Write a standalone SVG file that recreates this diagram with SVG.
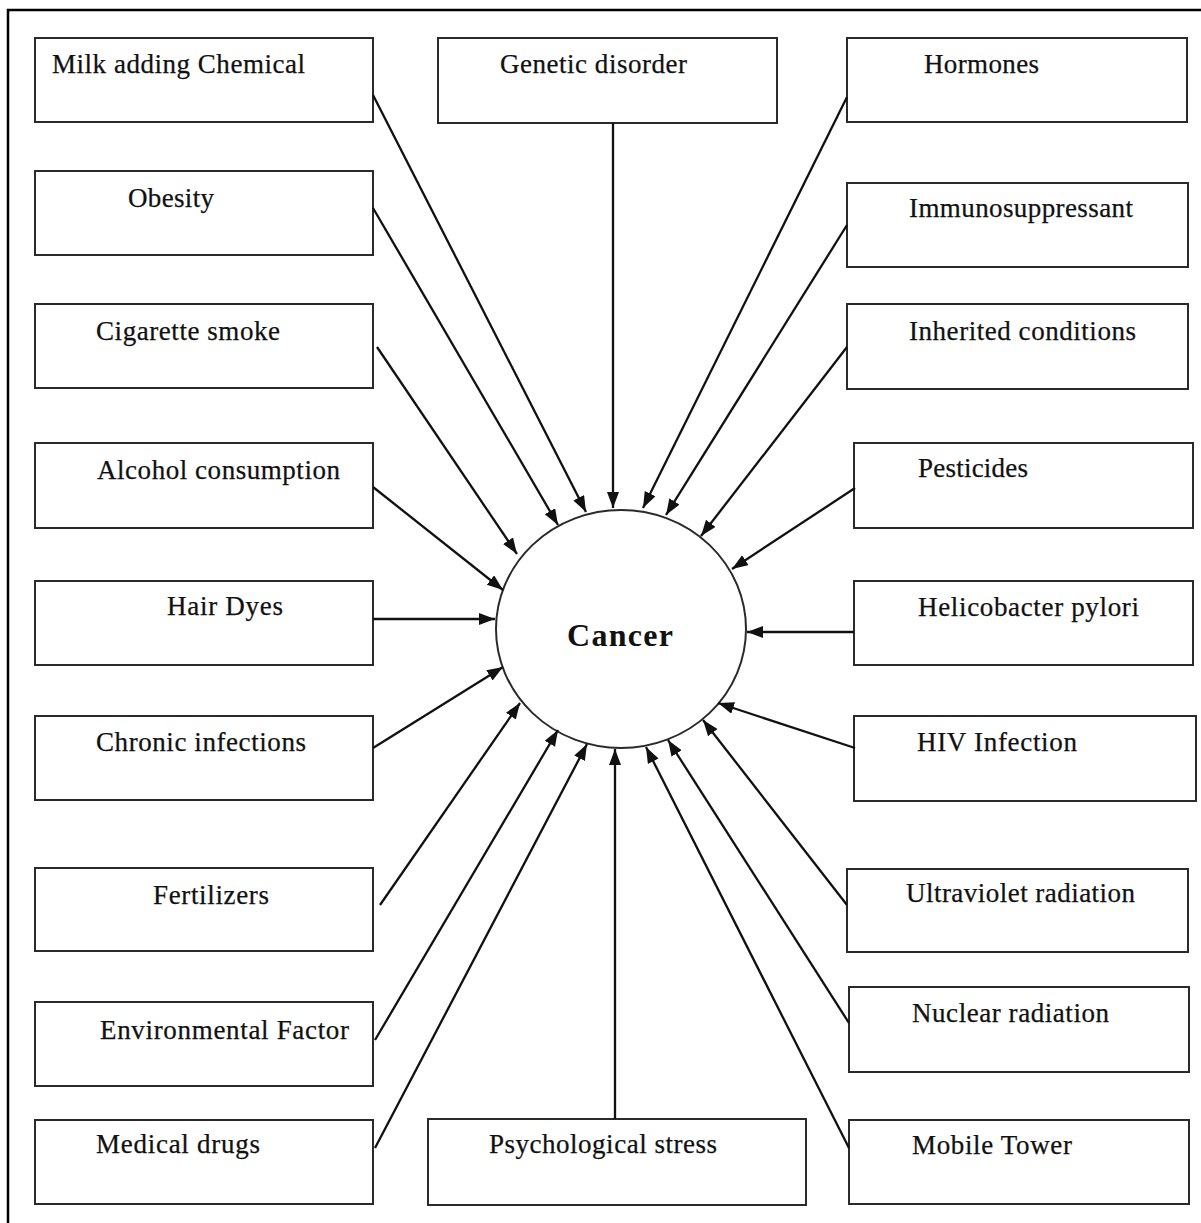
<svg xmlns="http://www.w3.org/2000/svg" width="1201" height="1223" viewBox="0 0 1201 1223">
<style>
.box{fill:#fff;stroke:#2a2a2a;stroke-width:2}
.lbl{font-family:"Liberation Serif","Times New Roman",serif;font-size:27px;fill:#111;stroke:#111;stroke-width:0.25}
.ttl{font-family:"Liberation Serif","Times New Roman",serif;font-size:32px;font-weight:bold;fill:#111}
.con line{stroke:#111;stroke-width:2.3;marker-end:url(#ah)}
</style>
<defs>
<marker id="ah" markerUnits="userSpaceOnUse" markerWidth="18" markerHeight="13" refX="16" refY="6" orient="auto">
<path d="M0,0 L16,6 L0,12 Z" fill="#111"/>
</marker>
</defs>
<rect width="1201" height="1223" fill="#fff"/>
<path d="M8,1223 L8,10 L1201,10" fill="none" stroke="#000" stroke-width="2.5"/>

<g id="n-milk"><rect class="box" x="35" y="38" width="338" height="84"/><text class="lbl" x="52" y="73" textLength="253" lengthAdjust="spacing">Milk adding Chemical</text></g>
<g id="n-genetic"><rect class="box" x="438" y="38" width="339" height="85"/><text class="lbl" x="500" y="73" textLength="187" lengthAdjust="spacing">Genetic disorder</text></g>
<g id="n-hormones"><rect class="box" x="847" y="38" width="340" height="84"/><text class="lbl" x="924" y="73" textLength="115" lengthAdjust="spacing">Hormones</text></g>
<g id="n-obesity"><rect class="box" x="35" y="171" width="338" height="84"/><text class="lbl" x="128" y="207" textLength="86" lengthAdjust="spacing">Obesity</text></g>
<g id="n-immuno"><rect class="box" x="847" y="183" width="341" height="84"/><text class="lbl" x="909" y="217" textLength="224" lengthAdjust="spacing">Immunosuppressant</text></g>
<g id="n-cigarette"><rect class="box" x="35" y="304" width="338" height="84"/><text class="lbl" x="96" y="340" textLength="184" lengthAdjust="spacing">Cigarette smoke</text></g>
<g id="n-inherited"><rect class="box" x="847" y="304" width="341" height="85"/><text class="lbl" x="909" y="340" textLength="227" lengthAdjust="spacing">Inherited conditions</text></g>
<g id="n-alcohol"><rect class="box" x="35" y="443" width="338" height="85"/><text class="lbl" x="97" y="479" textLength="243" lengthAdjust="spacing">Alcohol consumption</text></g>
<g id="n-pesticides"><rect class="box" x="854" y="443" width="339" height="85"/><text class="lbl" x="918" y="477" textLength="110" lengthAdjust="spacing">Pesticides</text></g>
<g id="n-hair"><rect class="box" x="35" y="581" width="338" height="84"/><text class="lbl" x="167" y="615" textLength="116" lengthAdjust="spacing">Hair Dyes</text></g>
<g id="n-helico"><rect class="box" x="854" y="581" width="339" height="84"/><text class="lbl" x="918" y="616" textLength="221" lengthAdjust="spacing">Helicobacter pylori</text></g>
<g id="n-chronic"><rect class="box" x="35" y="716" width="338" height="84"/><text class="lbl" x="96" y="751" textLength="210" lengthAdjust="spacing">Chronic infections</text></g>
<g id="n-hiv"><rect class="box" x="854" y="716" width="342" height="85"/><text class="lbl" x="917" y="751" textLength="160" lengthAdjust="spacing">HIV Infection</text></g>
<g id="n-fertilizers"><rect class="box" x="35" y="868" width="338" height="83"/><text class="lbl" x="153" y="904" textLength="116" lengthAdjust="spacing">Fertilizers</text></g>
<g id="n-uv"><rect class="box" x="847" y="869" width="341" height="83"/><text class="lbl" x="906" y="902" textLength="229" lengthAdjust="spacing">Ultraviolet radiation</text></g>
<g id="n-env"><rect class="box" x="35" y="1002" width="338" height="84"/><text class="lbl" x="100" y="1039" textLength="249" lengthAdjust="spacing">Environmental Factor</text></g>
<g id="n-nuclear"><rect class="box" x="849" y="987" width="340" height="85"/><text class="lbl" x="912" y="1022" textLength="197" lengthAdjust="spacing">Nuclear radiation</text></g>
<g id="n-medical"><rect class="box" x="35" y="1120" width="338" height="84"/><text class="lbl" x="96" y="1153" textLength="164" lengthAdjust="spacing">Medical drugs</text></g>
<g id="n-psych"><rect class="box" x="428" y="1119" width="378" height="86"/><text class="lbl" x="489" y="1153" textLength="228" lengthAdjust="spacing">Psychological stress</text></g>
<g id="n-mobile"><rect class="box" x="849" y="1120" width="340" height="84"/><text class="lbl" x="912" y="1154" textLength="160" lengthAdjust="spacing">Mobile Tower</text></g>

<g id="n-cancer"><ellipse cx="621" cy="629" rx="125" ry="119" fill="#fff" stroke="#2a2a2a" stroke-width="2"/><text class="ttl" x="567" y="646" textLength="106" lengthAdjust="spacing">Cancer</text></g>

<g id="connectors" class="con">
<line x1="373" y1="95" x2="586" y2="512"/>
<line x1="373" y1="208" x2="558" y2="525"/>
<line x1="377" y1="347" x2="517" y2="554"/>
<line x1="373" y1="487" x2="503" y2="590"/>
<line x1="373" y1="619" x2="495" y2="619"/>
<line x1="373" y1="748" x2="503" y2="667"/>
<line x1="380" y1="905" x2="520" y2="703"/>
<line x1="375" y1="1040" x2="558" y2="730"/>
<line x1="375" y1="1148" x2="587" y2="744"/>
<line x1="613" y1="123" x2="613" y2="508"/>
<line x1="615" y1="1119" x2="615" y2="749"/>
<line x1="847" y1="97" x2="643" y2="508"/>
<line x1="847" y1="225" x2="666" y2="515"/>
<line x1="847" y1="347" x2="701" y2="536"/>
<line x1="855" y1="488" x2="732" y2="569"/>
<line x1="854" y1="632" x2="747" y2="632"/>
<line x1="855" y1="748" x2="718" y2="703"/>
<line x1="847" y1="905" x2="703" y2="720"/>
<line x1="849" y1="1023" x2="668" y2="740"/>
<line x1="849" y1="1148" x2="646" y2="747"/>
</g>
</svg>
